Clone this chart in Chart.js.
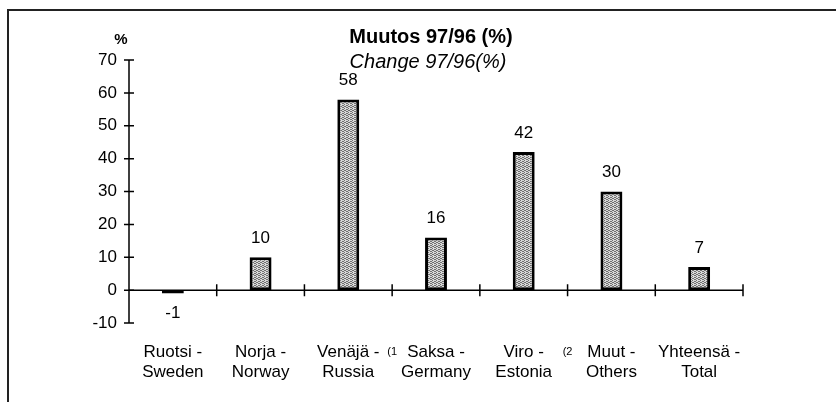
<!DOCTYPE html>
<html>
<head>
<meta charset="utf-8">
<script src="https://cdn.jsdelivr.net/npm/chart.js@4/dist/chart.umd.min.js"></script>
<style>
  html, body { margin: 0; padding: 0; background: #fff; }
  #wrap { position: relative; width: 836px; height: 402px; }
</style>
</head>
<body>
<div id="wrap"><canvas id="chart" width="836" height="402"></canvas></div>
<script>
// Muutos 97/96 (%) - Change 97/96(%)
const categories = [
    ['Ruotsi -', 'Sweden'],
    ['Norja -', 'Norway'],
    ['Venäjä -', 'Russia'],
    ['Saksa -', 'Germany'],
    ['Viro -', 'Estonia'],
    ['Muut -', 'Others'],
    ['Yhteensä -', 'Total']
];
const changePct = [-1, 10, 58, 16, 42, 30, 7];
const footnotes = [null, null, '(1', null, '(2', null, null]; // merkki kategorian oikealla puolella
const yTicks = [-10, 0, 10, 20, 30, 40, 50, 60, 70];
const titleMain = 'Muutos 97/96 (%)';
const titleSub = 'Change 97/96(%)';
const unitLabel = '%';

const FONT = 'Arial, "Liberation Sans", Helvetica, sans-serif';

// rasteroitu harmaa tayttokuvio (kuten alkuperaisessa tulosteessa)
function makeStipple() {
    const c = document.createElement('canvas');
    c.width = 4; c.height = 4;
    const g = c.getContext('2d');
    g.fillStyle = '#d8d8d8';
    g.fillRect(0, 0, 4, 4);
    g.fillStyle = '#707070';
    [[0,0],[2,1],[1,2],[3,3],[2,3],[0,2],[3,1]].forEach(([x, y]) => g.fillRect(x, y, 1, 1));
    return g.createPattern(c, 'repeat');
}

const axesPlugin = {
    id: 'axesPlugin',
    afterDatasetsDraw(chart) {
        const { ctx, chartArea, scales: { x, y } } = chart;
        ctx.save();
        ctx.strokeStyle = '#000';
        ctx.lineWidth = 1.5;
        // y-akseli
        ctx.beginPath();
        ctx.moveTo(chartArea.left, y.getPixelForValue(yTicks[yTicks.length - 1]));
        ctx.lineTo(chartArea.left, y.getPixelForValue(yTicks[0]));
        yTicks.forEach(v => {
            const py = y.getPixelForValue(v);
            ctx.moveTo(chartArea.left - 5, py);
            ctx.lineTo(chartArea.left + 5, py);
        });
        ctx.stroke();
        // x-akseli nollatasolla, jakoviivat kategorioiden rajoilla
        const y0 = y.getPixelForValue(0);
        ctx.beginPath();
        ctx.moveTo(chartArea.left, y0);
        ctx.lineTo(chartArea.right, y0);
        for (let i = 1; i <= categories.length; i++) {
            const bx = i < categories.length
                ? (x.getPixelForValue(i - 1) + x.getPixelForValue(i)) / 2
                : chartArea.right;
            ctx.moveTo(bx, y0 - 6);
            ctx.lineTo(bx, y0 + 6);
        }
        ctx.stroke();

        // arvot pylvaiden paalle
        ctx.fillStyle = '#000';
        ctx.font = '17px ' + FONT;
        ctx.textAlign = 'center';
        ctx.textBaseline = 'middle';
        const meta = chart.getDatasetMeta(0);
        meta.data.forEach((bar, i) => {
            const v = changePct[i];
            if (v >= 0) ctx.fillText(String(v), bar.x, bar.y - 19);
            else ctx.fillText(String(v), bar.x, bar.y + 20);
        });

        // alaviitemerkit
        ctx.font = '11px ' + FONT;
        footnotes.forEach((f, i) => {
            if (!f) return;
            const bx = (x.getPixelForValue(i) + x.getPixelForValue(i + 1)) / 2;
            ctx.fillText(f, bx, 352);
        });

        // otsikot ja yksikko
        ctx.font = 'bold 20px ' + FONT;
        ctx.fillText(titleMain, 431, 37);
        ctx.font = 'italic 20px ' + FONT;
        ctx.fillText(titleSub, 428, 62);
        ctx.font = 'bold 15px ' + FONT;
        ctx.fillText(unitLabel, 121, 40);

        // kehys
        ctx.lineWidth = 2;
        ctx.strokeStyle = '#222';
        ctx.beginPath();
        ctx.moveTo(8, 402);
        ctx.lineTo(8, 10);
        ctx.lineTo(836, 10);
        ctx.stroke();
        ctx.restore();
    }
};

const stipple = makeStipple();

new Chart(document.getElementById('chart'), {
    type: 'bar',
    data: {
        labels: categories,
        datasets: [{
            data: changePct,
            backgroundColor: changePct.map(v => v < 0 ? '#000' : stipple),
            borderColor: '#000',
            borderWidth: 3,
            borderSkipped: false,
            categoryPercentage: 1,
            barPercentage: 0.25
        }]
    },
    options: {
        responsive: false,
        animation: false,
        layout: { padding: { left: 0, top: 60, right: 93, bottom: 0 } },
        scales: {
            x: {
                grid: { display: false, drawTicks: false },
                border: { display: false },
                ticks: { color: '#000', font: { size: 17, family: FONT }, padding: 19, maxRotation: 0, autoSkip: false },
                afterFit(scale) { scale.height = 79; }
            },
            y: {
                min: -10, max: 70,
                grid: { display: false, drawTicks: false },
                border: { display: false },
                ticks: { stepSize: 10, color: '#000', font: { size: 17, family: FONT }, padding: 12 },
                afterFit(scale) { scale.width = 129; }
            }
        },
        plugins: {
            legend: { display: false },
            title: { display: false },
            tooltip: { enabled: false }
        }
    },
    plugins: [axesPlugin]
});
</script>
</body>
</html>
